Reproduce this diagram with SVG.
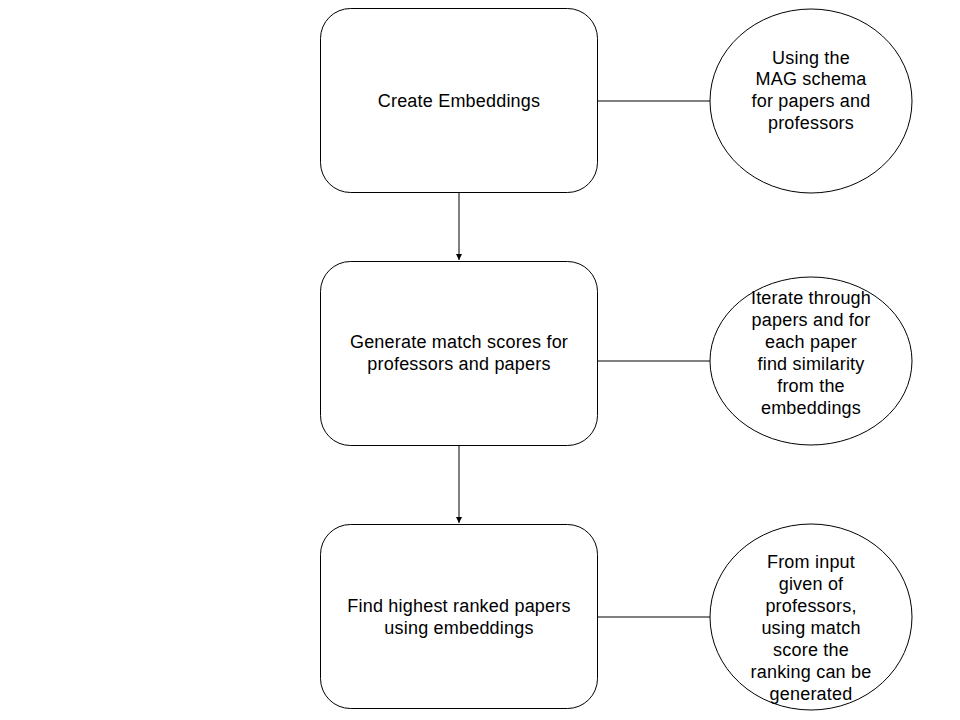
<svg xmlns="http://www.w3.org/2000/svg" width="960" height="720" viewBox="0 0 960 720">
<style>
.box{fill:#fff;stroke:#000;stroke-width:1}
.ell{fill:#fff;stroke:#000;stroke-width:1}
.t{font-family:"Liberation Sans",Arial,sans-serif;font-size:18px;letter-spacing:0.2px;fill:#000;text-anchor:middle}
.c{stroke:#000;stroke-width:1;fill:none}
</style>
<defs>
<marker id="ah" markerWidth="8" markerHeight="8" refX="6" refY="3" orient="auto" markerUnits="userSpaceOnUse">
<path d="M0,0 L6,3 L0,6 Z" fill="#000"/>
</marker>
</defs>
<rect width="960" height="720" fill="#fff"/>
<g id="connectors">
<line class="c" x1="459" y1="193" x2="459" y2="260" marker-end="url(#ah)"/>
<line class="c" x1="459" y1="445" x2="459" y2="523" marker-end="url(#ah)"/>
<line class="c" x1="598" y1="101" x2="710" y2="101"/>
<line class="c" x1="598" y1="361" x2="710" y2="361"/>
<line class="c" x1="598" y1="617" x2="710" y2="617"/>
</g>
<g id="box1">
<rect class="box" x="320.5" y="8.5" width="277" height="184" rx="30" ry="30"/>
<text class="t" x="459" y="107">Create Embeddings</text>
</g>
<g id="box2">
<rect class="box" x="320.5" y="261.5" width="277" height="184" rx="30" ry="30"/>
<text class="t" x="459" y="348">Generate match scores for</text>
<text class="t" x="459" y="370">professors and papers</text>
</g>
<g id="box3">
<rect class="box" x="320.5" y="524.5" width="277" height="184" rx="30" ry="30"/>
<text class="t" x="459" y="612">Find highest ranked papers</text>
<text class="t" x="459" y="634">using embeddings</text>
</g>
<g id="ell1">
<ellipse class="ell" cx="811" cy="101" rx="101" ry="92"/>
<text class="t" x="811" y="64">Using the</text>
<text class="t" x="811" y="85">MAG schema</text>
<text class="t" x="811" y="107">for papers and</text>
<text class="t" x="811" y="129">professors</text>
</g>
<g id="ell2">
<ellipse class="ell" cx="811" cy="361" rx="101" ry="84"/>
<text class="t" x="811" y="304">Iterate through</text>
<text class="t" x="811" y="326">papers and for</text>
<text class="t" x="811" y="348">each paper</text>
<text class="t" x="811" y="370">find similarity</text>
<text class="t" x="811" y="392">from the</text>
<text class="t" x="811" y="414">embeddings</text>
</g>
<g id="ell3">
<ellipse class="ell" cx="811" cy="617" rx="101" ry="93"/>
<text class="t" x="811" y="568">From input</text>
<text class="t" x="811" y="590">given of</text>
<text class="t" x="811" y="612">professors,</text>
<text class="t" x="811" y="634">using match</text>
<text class="t" x="811" y="656">score the</text>
<text class="t" x="811" y="678">ranking can be</text>
<text class="t" x="811" y="700">generated</text>
</g>
</svg>
